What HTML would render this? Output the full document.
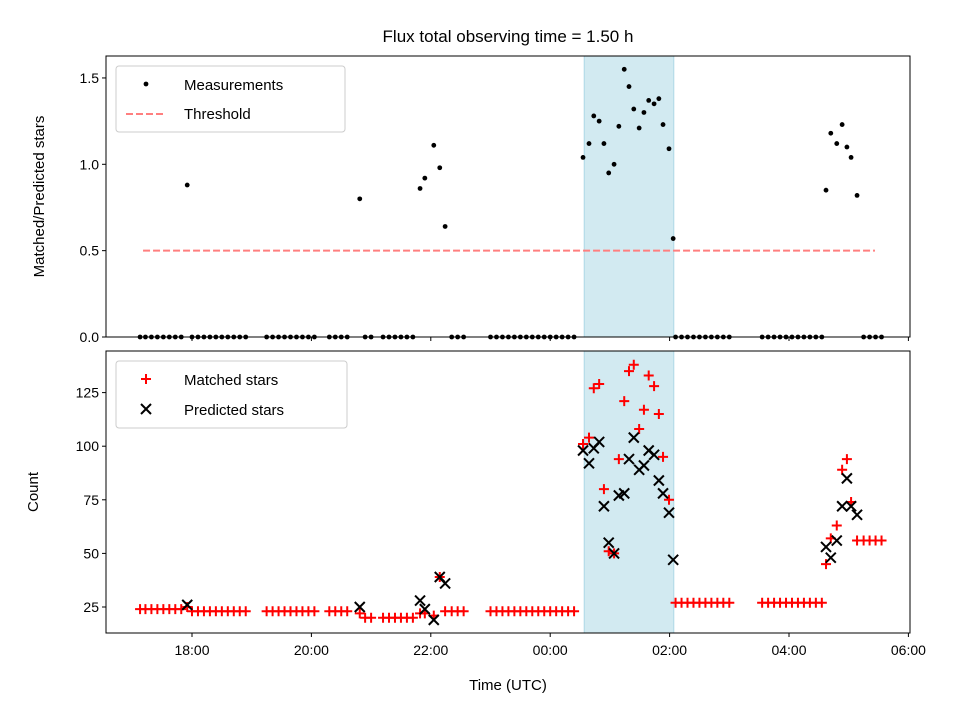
<!DOCTYPE html>
<html><head><meta charset="utf-8"><style>
html,body{margin:0;padding:0;background:#fff;}
svg{display:block;font-family:"Liberation Sans","DejaVu Sans",sans-serif;}
</style></head><body>
<svg id="chart" width="960" height="720" viewBox="0 0 960 720" xmlns="http://www.w3.org/2000/svg">
<rect width="960" height="720" fill="#fff"/>
<text x="508" y="42" font-size="17" text-anchor="middle">Flux total observing time = 1.50 h</text>
<g id="topg"></g><g id="botg"></g>
</svg>
<script>
// ---- data ----
const baseTimes=[17.13,17.22,17.32,17.42,17.52,17.62,17.72,17.82,
18.0,18.1,18.2,18.3,18.4,18.5,18.6,18.7,18.8,18.9,
19.25,19.35,19.45,19.55,19.65,19.75,19.85,19.95,20.05,
20.3,20.4,20.5,20.6,20.9,21.0,
21.2,21.3,21.4,21.5,21.6,21.7,
22.35,22.45,22.55,
23.0,23.1,23.2,23.3,23.4,23.5,23.6,23.7,23.8,23.9,24.0,24.1,24.2,24.3,24.4,
26.1,26.2,26.3,26.4,26.5,26.6,26.7,26.8,26.9,27.0,
27.55,27.65,27.75,27.85,27.95,28.05,28.15,28.25,28.35,28.45,28.55,
29.25,29.35,29.45,29.55];
const baseCounts=[24,24,24,24,24,24,24,24,
23,23,23,23,23,23,23,23,23,23,
23,23,23,23,23,23,23,23,23,
23,23,23,23,20,20,
20,20,20,20,20,20,
23,23,23,
23,23,23,23,23,23,23,23,23,23,23,23,23,23,23,
27,27,27,27,27,27,27,27,27,27,
27,27,27,27,27,27,27,27,27,27,27,
56,56,56,56];
const obsTimes=[17.92,20.81,21.82,21.90,22.05,22.15,22.24,
24.55,24.65,24.73,24.82,24.90,24.98,25.07,25.15,25.24,25.32,25.40,25.49,25.57,25.65,25.74,25.82,25.89,25.99,26.06,
28.62,28.70,28.80,28.89,28.97,29.04,29.14];
const matchedCounts=[25,22,22,22,21,39,23,
101,104,127,129,80,51,50,94,121,135,138,108,117,133,128,115,95,75,null,
45,57,63,89,94,74,56];
const predictedCounts=[26,25,28,24,19,39,36,
98,92,99,102,72,55,50,77,78,94,104,89,91,98,96,84,78,69,47,
53,48,56,72,85,72,68];
const ratios=[0.88,0.80,0.86,0.92,1.11,0.98,0.64,
1.04,1.12,1.28,1.25,1.12,0.95,1.0,1.22,1.55,1.45,1.32,1.21,1.30,1.37,1.35,1.38,1.23,1.09,0.57,
0.85,1.18,1.12,1.23,1.10,1.04,0.82];
const threshold=[0.5];
const thresholdSpan=[17.18,29.44];
const shadeSpan=[24.57,26.07];
const xTickHours=[18,20,22,24,26,28,30];
const xTickLabels=["18:00","20:00","22:00","00:00","02:00","04:00","06:00"];
const topTicks=[0,0.5,1.0,1.5];
const botTicks=[25,50,75,100,125];

// ---- layout ----
const L=106,R=910,T1=56,B1=337,T2=351,B2=633;
const X=h=>192+(h-18)*59.7;
const Y1=v=>337-v*172.7;
const Y2=v=>660.6-v*2.144;
const NS="http://www.w3.org/2000/svg";
function mk(tag,attrs,parent,txt){const e=document.createElementNS(NS,tag);for(const k in attrs)e.setAttribute(k,attrs[k]);if(txt!==undefined)e.textContent=txt;parent.appendChild(e);return e;}
const topG=document.getElementById('topg'),botG=document.getElementById('botg');
const svg=document.getElementById('chart');

function axes(g,Tp,Bt,ticks,Y,fmt,name,showX){
  let s=mk('rect',{x:X(shadeSpan[0]),y:Tp,width:X(shadeSpan[1])-X(shadeSpan[0]),height:Bt-Tp,fill:'#add8e6','fill-opacity':0.55,stroke:'#add8e6'},g);
  
  
  ticks.forEach(v=>{
    mk('line',{x1:L-4,x2:L,y1:Y(v),y2:Y(v),stroke:'#000'},g);
    let t=mk('text',{x:L-7,y:Y(v)+5,'font-size':14,'text-anchor':'end'},g,fmt(v));
    
    
  });
  xTickHours.forEach((h,i)=>{
    mk('line',{x1:X(h),x2:X(h),y1:Bt,y2:Bt+4,stroke:'#000'},g);
    if(showX){let t=mk('text',{x:X(h),y:Bt+22,'font-size':14,'text-anchor':'middle'},g,xTickLabels[i]);
    
    }
  });
}
axes(topG,T1,B1,topTicks,Y1,v=>v.toFixed(1),'top',false);
axes(botG,T2,B2,botTicks,Y2,v=>String(v),'bottom',true);

let th=mk('line',{x1:X(thresholdSpan[0]),x2:X(thresholdSpan[1]),y1:Y1(threshold[0]),y2:Y1(threshold[0]),stroke:'#ff7f7f','stroke-width':2,'stroke-dasharray':'7,3'},topG);


baseTimes.forEach(h=>{let c=mk('circle',{cx:X(h),cy:Y1(0),r:2.4,fill:'#000'},topG);

});
obsTimes.forEach((h,i)=>{let c=mk('circle',{cx:X(h),cy:Y1(ratios[i]),r:2.4,fill:'#000'},topG);

});

function plus(x,y){let p=mk('path',{d:`M${x-5},${y}H${x+5}M${x},${y-5}V${y+5}`,stroke:'#f00','stroke-width':2},botG);

}
function cross(x,y){let p=mk('path',{d:`M${x-5},${y-5}L${x+5},${y+5}M${x-5},${y+5}L${x+5},${y-5}`,stroke:'#000','stroke-width':2},botG);

}
baseTimes.forEach((h,i)=>plus(X(h),Y2(baseCounts[i])));
obsTimes.forEach((h,i)=>{if(matchedCounts[i]!=null)plus(X(h),Y2(matchedCounts[i]));});
obsTimes.forEach((h,i)=>cross(X(h),Y2(predictedCounts[i])));

[[T1,B1,'top-plot-frame'],[T2,B2,'bottom-plot-frame']].forEach(([a,b,n])=>{
  let r=mk('rect',{x:L,y:a,width:R-L,height:b-a,fill:'none',stroke:'#000','stroke-width':1},svg);
  
  
});
let yl1=mk('text',{x:0,y:0,'font-size':15,'text-anchor':'middle',transform:`translate(44,${(T1+B1)/2}) rotate(-90)`},svg,'Matched/Predicted stars');


let yl2=mk('text',{x:0,y:0,'font-size':15,'text-anchor':'middle',transform:`translate(38,${(T2+B2)/2}) rotate(-90)`},svg,'Count');


let xl=mk('text',{x:508,y:690,'font-size':15,'text-anchor':'middle'},svg,'Time (UTC)');



function legend(y,h,w,name){let r=mk('rect',{x:116,y:y,width:w,height:h,rx:3,fill:'#fff','fill-opacity':0.85,stroke:'#ccc'},svg);

}
legend(66,66,229,'top-legend');
let d=mk('circle',{cx:146,cy:84,r:2.4,fill:'#000'},svg);


let t1=mk('text',{x:184,y:90,'font-size':15},svg,'Measurements');


let dl=mk('line',{x1:126,x2:166,y1:114,y2:114,stroke:'#ff7f7f','stroke-width':2,'stroke-dasharray':'7,3'},svg);


let t2=mk('text',{x:184,y:119,'font-size':15},svg,'Threshold');


legend(361,67,231,'bottom-legend');
let lp=mk('path',{d:'M141,379H151M146,374V384',stroke:'#f00','stroke-width':2},svg);


let t3=mk('text',{x:184,y:385,'font-size':15},svg,'Matched stars');


let lx=mk('path',{d:'M141,404L151,414M141,414L151,404',stroke:'#000','stroke-width':2},svg);


let t4=mk('text',{x:184,y:415,'font-size':15},svg,'Predicted stars');


</script>
</body></html>
